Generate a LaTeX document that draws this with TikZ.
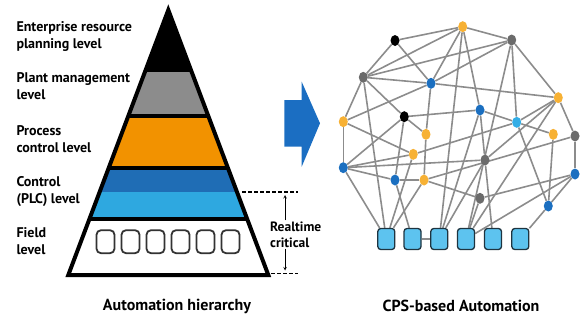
\documentclass[tikz,border=0pt]{standalone}
\usepackage{fontspec}
\setmainfont{PT Sans}
\usetikzlibrary{shapes.geometric,backgrounds}

\definecolor{bandgray}{HTML}{8C8C8C}
\definecolor{bandorange}{HTML}{F29200}
\definecolor{banddark}{HTML}{1F6DB5}
\definecolor{bandlight}{HTML}{2EA8E0}
\definecolor{dotorange}{HTML}{F7B134}
\definecolor{dotblue}{HTML}{1B6FC0}
\definecolor{dotgray}{HTML}{6B6B6B}
\definecolor{dotcyan}{HTML}{34AEE6}
\definecolor{devblue}{HTML}{5DC3EF}
\definecolor{devline}{HTML}{1E3440}
\definecolor{linkgray}{HTML}{8C8C8C}
\definecolor{arrowblue}{HTML}{1B6EC2}

\begin{document}
\begin{tikzpicture}[x=1pt,y=-1pt,
  lvl/.style={anchor=west,align=left,font=\bfseries\fontsize{14}{17}\selectfont},
  caption/.style={font=\bfseries\fontsize{16}{18}\selectfont},
  dot/.style={ellipse,minimum width=9pt,minimum height=11pt,inner sep=0pt},
  link/.style={draw=linkgray,line width=1.6pt},
  dev/.style={draw=devline,fill=devblue,rounded corners=3pt,line width=1.3pt,minimum width=17pt,minimum height=21pt,inner sep=0pt},
  fielddev/.style={draw=black!80,fill=white,rounded corners=4.5pt,line width=1.8pt,minimum width=18pt,minimum height=23pt,inner sep=0pt}]
\useasboundingbox (0,0) rectangle (583,322);

% pyramid
\coordinate (top) at (168.3,10);
\coordinate (bl) at (68.3,275);
\coordinate (br) at (268.3,275);
\begin{scope}
  \clip (top) -- (bl) -- (br) -- cycle;
  \fill[black] (60,0) rectangle (280,70);
  \fill[bandgray] (60,70) rectangle (280,116);
  \fill[bandorange] (60,116) rectangle (280,168);
  \fill[banddark] (60,168) rectangle (280,192);
  \fill[bandlight] (60,192) rectangle (280,219);
  \fill[white] (60,219) rectangle (280,280);
  \foreach \y in {70,116,168,219}
    \draw[line width=4pt] (60,\y) -- (280,\y);
\end{scope}
\draw[line width=4pt] (top) -- (bl) -- (br) -- cycle;
\foreach \i in {0,...,5}
  \node[fielddev] (f\i) at (105.5+25*\i,241.7) {};

\node[lvl] (erp) at (13,36.5) {Enterprise resource\\planning level};
\node[lvl] (plant) at (13,86.5) {Plant management\\level};
\node[lvl] (proc) at (13,139.5) {Process\\control level};
\node[lvl] (plc) at (13,191.5) {Control\\(PLC) level};
\node[lvl] (field) at (13,241.5) {Field\\level};

% realtime marks
\coordinate (rt1) at (242,191.7);
\coordinate (rt2) at (298,191.7);
\coordinate (rt3) at (271,273.5);
\coordinate (rt4) at (298,273.5);
\coordinate (up) at (285,195);
\coordinate (down) at (285,270.5);
\draw[line width=1.8pt,dash pattern=on 3.5pt off 2.5pt] (rt1) -- (rt2);
\draw[line width=1.8pt,dash pattern=on 3.5pt off 2.5pt] (rt3) -- (rt4);
\node[anchor=west,align=left,inner sep=1pt,font=\bfseries\fontsize{13.5}{16}\selectfont] (rt) at (269,234.5) {Realtime\\critical};
\draw[semithick,-stealth] (rt.north -| up) -- (up);
\draw[semithick,-stealth] (rt.south -| down) -- (down);

% big arrow
\fill[arrowblue] (284.3,100) -- (301.7,100) -- (301.7,81.7) -- (320,123.3) -- (301.7,166.7) -- (301.7,146.7) -- (284.3,146.7) -- cycle;

% network
\foreach \n/\x/\y/\c in {
  y1/462.7/26.7/dotorange, k1/395/40.5/black, g1/511.7/40/dotgray,
  g2/363.3/77.3/dotgray, b1/431/83.3/dotblue, y2/558.3/97.7/dotorange,
  b2/480/110/dotblue, k2/404.3/116.7/black, y3/343.3/121.7/dotorange,
  c1/516.7/122.3/dotcyan, y4/426/134.3/dotorange, y5/553.3/134.3/dotorange,
  g3/575/136/dotgray, y6/413.3/154.3/dotorange, g4/485/160/dotgray,
  b3/343.3/167.7/dotblue, b4/575/174/dotblue, b5/395/180/dotblue,
  y7/424/180/dotorange, g5/480/198.3/dotgray, b6/548.3/206/dotblue}
  \node[dot,fill=\c] (\n) at (\x,\y) {};
\foreach \i/\x in {1/386.3,2/412.5,3/439.3,4/466,5/493,6/520.3}
  \node[dev] (s\i) at (\x,239) {};

\begin{scope}[on background layer]
\foreach \a/\b in {k1/y1, y1/g1, g1/y2, y2/g3, g3/b4, b4/b6, b6/s6,
  k1/g2, g2/y3, y3/b3, b3/s1,
  y1/g2, y1/b1, y1/b2, y1/s3,
  g1/g2, g1/b1, g1/c1, g1/s4,
  g2/b1, g2/k2, g2/s1, k1/b1,
  k2/y4, k2/b2, k2/b3, k2/b5,
  b1/y2, b1/y3, b1/y4, y3/y6,
  b3/y6, b3/b5, b3/g4,
  b2/c1, b2/g4, b2/s3,
  c1/y2, c1/y5, c1/b6, c1/y6,
  y2/g4, y2/s4, y5/b6,
  g3/y7, b4/g5, b4/s4,
  g4/s5, g4/s3, y4/y7, y6/s1,
  y7/b5, y7/g5, y7/s1, b5/s2, g5/s4, s2/s3}
  \draw[link] (\a) -- (\b);
\end{scope}

\node[caption] (lefttitle) at (177,306) {Automation hierarchy};
\node[caption] (righttitle) at (461,306) {CPS-based Automation};
\end{tikzpicture}
\end{document}
